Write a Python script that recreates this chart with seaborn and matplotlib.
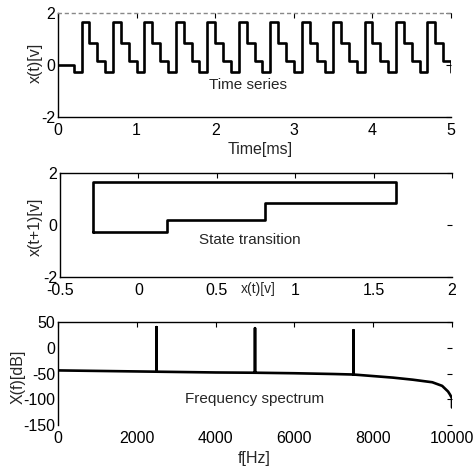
import matplotlib
matplotlib.use("Agg")
import matplotlib.pyplot as plt
import seaborn as sns

# Time series: one value per 0.1 ms step (t = 0 ... 5.0 ms), held until the next step
time_ms = [i / 10 for i in range(51)]
x_volts = [0.0, 0.0,
           -0.26, 1.65, 0.83, 0.17, -0.26, 1.65, 0.83, 0.17,
           -0.26, 1.65, 0.83, 0.17, -0.26, 1.65, 0.83, 0.17,
           -0.26, 1.65, 0.83, 0.17, -0.26, 1.65, 0.83, 0.17,
           -0.26, 1.65, 0.83, 0.17, -0.26, 1.65, 0.83, 0.17,
           -0.26, 1.65, 0.83, 0.17, -0.26, 1.65, 0.83, 0.17,
           -0.26, 1.65, 0.83, 0.17, -0.26, 1.65, 0.83, 0.17,
           -0.26]

# State transition: x(t) against x(t+1)
state_x = [-0.29, -0.29, 1.64, 1.64, 0.81, 0.81, 0.18, 0.18, -0.29]
state_y = [-0.28, 1.67, 1.67, 0.83, 0.83, 0.19, 0.19, -0.28, -0.28]

# Frequency spectrum (dB), spikes drawn as vertical jumps
freq_hz = [0, 1000, 2000, 2500, 2500, 2500, 4000, 5000, 5000, 5000, 6000, 7000,
           7500, 7500, 7500, 8000, 8500, 9000, 9500, 9750, 9900, 9950, 10000, 10000]
level_db = [-44, -45, -46, -46.5, 40, -46.5, -48, -48.5, 38, -48.5, -49.5, -51,
            -52, 34, -52, -55, -58, -62, -67, -74, -85, -91, -98, -116]

sns.set_theme(style="white")
plt.rcParams["font.family"] = ["Liberation Sans", "DejaVu Sans"]
plt.rcParams["axes.unicode_minus"] = False

fig = plt.figure(figsize=(4.77, 4.67), dpi=100)
W, H = 477, 467


def make_axes(left, right, top, bottom):
    return fig.add_axes([left / W, 1 - bottom / H, (right - left) / W, (bottom - top) / H])


ax1 = make_axes(58, 451, 13, 117)
ax2 = make_axes(60, 452, 173, 277)
ax3 = make_axes(58, 452, 322, 425)

for ax in (ax1, ax2, ax3):
    for side in ax.spines.values():
        side.set_color("black")
        side.set_linewidth(1.0)
    # the right edge of the box is washed out in the scan, only ticks remain
    ax.spines["right"].set_visible(False)
    ax.tick_params(direction="in", length=3.5, width=0.8, colors="black",
                   labelsize=11.5, top=True, right=True)
    ax.tick_params(axis="x", pad=4)
    ax.tick_params(axis="y", pad=2)

ax1.spines["top"].set_color("#888888")
ax1.spines["top"].set_linestyle((0, (2, 3)))
ax3.spines["bottom"].set_visible(False)

# Time series
sns.lineplot(x=time_ms, y=x_volts, ax=ax1, color="black", linewidth=1.9,
             drawstyle="steps-post", sort=False, estimator=None)
ax1.set_xlim(0, 5)
ax1.set_ylim(-2, 2)
ax1.set_xticks([0, 1, 2, 3, 4, 5])
ax1.set_yticks([-2, 0, 2])
ax1.set_xlabel("Time[ms]", fontsize=11.5, va="center")
ax1.xaxis.set_label_coords(0.514, -0.317)
ax1.set_ylabel("x(t)[v]", fontsize=11.5, va="center")
ax1.yaxis.set_label_coords(-0.058, 0.52)
ax1.text(2.42, -0.77, "Time series", fontsize=11, ha="center", va="center")

# State transition
sns.lineplot(x=state_x, y=state_y, ax=ax2, color="black", linewidth=1.9,
             sort=False, estimator=None)
ax2.set_xlim(-0.5, 2)
ax2.set_ylim(-2, 2)
ax2.set_xticks([-0.5, 0, 0.5, 1, 1.5, 2])
ax2.set_xticklabels(["-0.5", "0", "0.5", "1", "1.5", "2"])
ax2.set_yticks([-2, 0, 2])
ax2.set_xlabel("")
ax2.set_ylabel("x(t+1)[v]", fontsize=11.5, va="center")
ax2.yaxis.set_label_coords(-0.064, 0.48)
# matlab squeezed the x label into the tick label row
ax2.text(0.505, -0.115, "x(t)[v]", fontsize=10, ha="center", va="center",
         transform=ax2.transAxes)
ax2.text(0.71, -0.58, "State transition", fontsize=11, ha="center", va="center")

# Frequency spectrum
sns.lineplot(x=freq_hz, y=level_db, ax=ax3, color="black", linewidth=1.9,
             sort=False, estimator=None)
ax3.set_xlim(0, 10000)
ax3.set_ylim(-150, 50)
ax3.set_xticks([0, 2000, 4000, 6000, 8000, 10000])
ax3.set_yticks([-150, -100, -50, 0, 50])
ax3.set_xlabel("f[Hz]", fontsize=11.5, va="center")
ax3.xaxis.set_label_coords(0.497, -0.33)
ax3.set_ylabel("X(f)[dB]", fontsize=11.5, va="center")
ax3.yaxis.set_label_coords(-0.102, 0.466)
ax3.text(5000, -100, "Frequency spectrum", fontsize=11, ha="center", va="center")

fig.savefig("out.png", dpi=100)
